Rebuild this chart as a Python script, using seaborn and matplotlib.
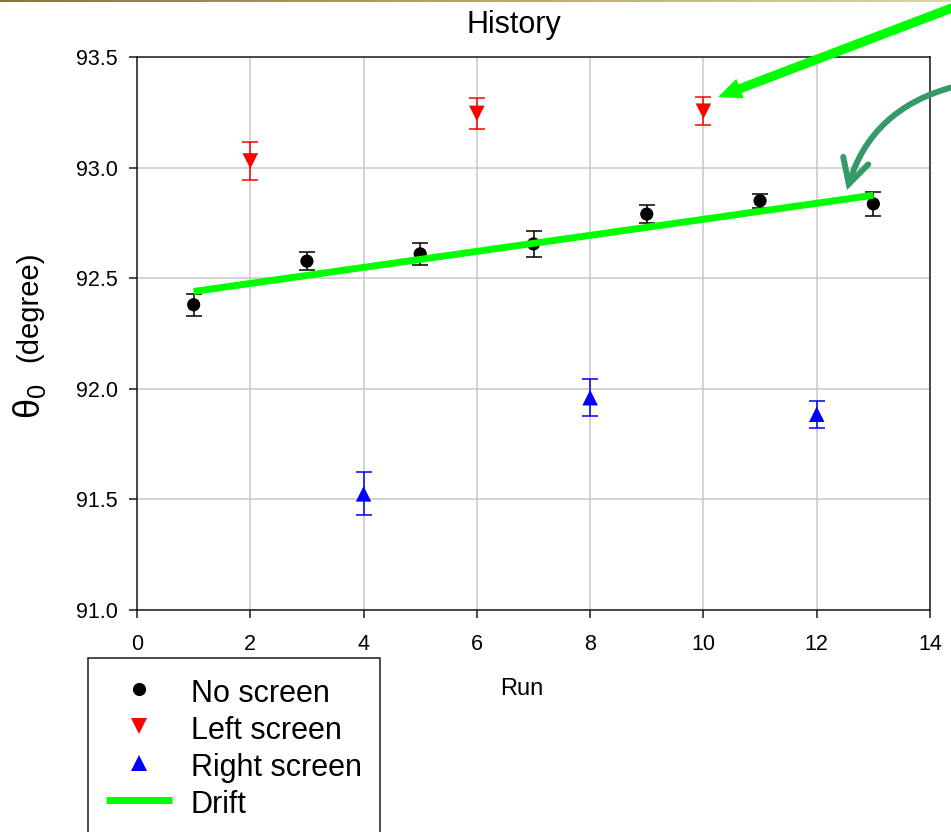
import numpy as np
import pandas as pd
import matplotlib
matplotlib.use("Agg")
import matplotlib.pyplot as plt
from matplotlib.lines import Line2D
from matplotlib.patches import FancyArrowPatch
from matplotlib.colors import LinearSegmentedColormap
import seaborn as sns

# ---- data -------------------------------------------------------------
no_run = [1, 3, 5, 7, 9, 11, 13]
no_theta = [92.38, 92.577, 92.61, 92.655, 92.79, 92.85, 92.836]
no_err = [0.05, 0.04, 0.05, 0.058, 0.04, 0.032, 0.055]

left_run = [2, 6, 10]
left_theta = [93.03, 93.245, 93.255]
left_err = [0.086, 0.07, 0.064]

right_run = [4, 8, 12]
right_theta = [91.525, 91.96, 91.885]
right_err = [0.097, 0.085, 0.06]

drift_run = [1, 13]
drift_theta = [92.44, 92.875]

series_names = ["No screen", "Left screen", "Right screen"]
series_colors = ["#000000", "#ff0000", "#0000ff"]
series_markers = ["o", "v", "^"]
series_sizes = [90, 125, 125]
drift_name = "Drift"
drift_color = "#00ff00"

x_ticks = [0, 2, 4, 6, 8, 10, 12, 14]
y_ticks = [91.0, 91.5, 92.0, 92.5, 93.0, 93.5]
y_tick_labels = ["91.0", "91.5", "92.0", "92.5", "93.0", "93.5"]

# ---- style ------------------------------------------------------------
sns.set_theme(style="whitegrid")
plt.rcParams["font.family"] = ["Liberation Sans", "DejaVu Sans"]
plt.rcParams["mathtext.fontset"] = "custom"
plt.rcParams["mathtext.rm"] = "Liberation Sans"
plt.rcParams["text.color"] = "black"

W, H = 951, 832
fig = plt.figure(figsize=(W / 100, H / 100), dpi=100, facecolor="white")


def fx(px):
    return px / W


def fy(py):
    return 1 - py / H


# thin shaded rule along the top edge
edge = fig.add_axes([0, fy(2), 1, 2 / H])
edge.imshow(np.linspace(0, 1, 256)[None, :], aspect="auto",
            cmap=LinearSegmentedColormap.from_list("edge", ["#8a7830", "#dcd5aa"]))
edge.set_axis_off()

ax = fig.add_axes([fx(137), fy(610), fx(930) - fx(137), fy(57) - fy(610)])
ax.set_facecolor("white")

frames = []
for name, r, t, e in [(series_names[0], no_run, no_theta, no_err),
                      (series_names[1], left_run, left_theta, left_err),
                      (series_names[2], right_run, right_theta, right_err)]:
    frames.append(pd.DataFrame({"run": r, "theta": t, "err": e, "config": name}))
df = pd.concat(frames, ignore_index=True)

# error bars below the markers
for name, color in zip(series_names, series_colors):
    sub = df[df["config"] == name]
    ax.errorbar(sub["run"], sub["theta"], yerr=sub["err"], fmt="none",
                ecolor=color, elinewidth=1.1, capsize=6, capthick=1.1, zorder=2)

sns.scatterplot(data=df, x="run", y="theta", hue="config", style="config",
                size="config", hue_order=series_names, style_order=series_names,
                palette=dict(zip(series_names, series_colors)),
                markers=dict(zip(series_names, series_markers)),
                sizes=dict(zip(series_names, series_sizes)),
                linewidth=0, legend=False, ax=ax, zorder=3)

sns.lineplot(x=drift_run, y=drift_theta, color=drift_color, linewidth=5,
             solid_capstyle="butt", ax=ax, zorder=4)

# ---- axes -------------------------------------------------------------
ax.set_xlim(0, 14)
ax.set_ylim(91.0, 93.5)
ax.set_xticks(x_ticks)
ax.set_xticklabels([str(v) for v in x_ticks])
ax.set_yticks(y_ticks)
ax.set_yticklabels(y_tick_labels)
ax.grid(True, color="#c8c8c8", linewidth=1.1)
ax.set_axisbelow(True)
for s in ax.spines.values():
    s.set_visible(True)
    s.set_color("#1a1a1a")
    s.set_linewidth(1.1)
ax.tick_params(axis="both", which="major", direction="out", length=6, width=1.1,
               color="#1a1a1a", labelsize=15.5, labelcolor="black",
               bottom=True, left=True)
ax.tick_params(axis="y", pad=8)
ax.tick_params(axis="x", pad=11)

ax.set_title("History", fontsize=22, color="black", x=(514 - 137) / 793,
             y=(610 - 33) / 553, pad=0, va="baseline")

ax.set_xlabel("Run", fontsize=17, color="black")
ax.xaxis.label.set_va("center")
ax.xaxis.set_label_coords((522 - 137) / 793, (610 - 689) / 553)

ax.set_ylabel("(degree)", fontsize=21, color="black")
ax.yaxis.label.set_va("center")
ax.yaxis.set_label_coords((29 - 137) / 793, (610 - 307) / 553)
ax.text((30 - 137) / 793, (610 - 401) / 553, r"$\mathregular{\theta_0}$",
        rotation=90, ha="center", va="center", fontsize=26, color="black",
        transform=ax.transAxes)

# ---- legend -----------------------------------------------------------
handles = [Line2D([], [], linestyle="none", marker=m, color=c,
                  markersize=np.sqrt(s), markeredgewidth=0)
           for m, c, s in zip(series_markers, series_colors, series_sizes)]
handles.append(Line2D([], [], color=drift_color, linewidth=5, solid_capstyle="butt"))
leg = fig.legend(handles, series_names + [drift_name], loc="upper left",
                 bbox_to_anchor=(fx(88), fy(658)), bbox_transform=fig.transFigure,
                 borderaxespad=0, fontsize=22, frameon=True, fancybox=False,
                 edgecolor="#1a1a1a", facecolor="white", framealpha=1,
                 borderpad=0.6, labelspacing=0.13, handleheight=1.2,
                 handlelength=2.15, handletextpad=0.62, labelcolor="black")
leg.get_frame().set_linewidth(1.1)

# ---- pointer arrows ---------------------------------------------------
fig.add_artist(FancyArrowPatch(
    (fx(965), fy(3)), (fx(718), fy(97)), transform=fig.transFigure,
    arrowstyle="simple,head_length=17,head_width=15,tail_width=6.7",
    mutation_scale=1, color=drift_color, linewidth=0, shrinkA=0, shrinkB=0,
    zorder=10))
fig.add_artist(FancyArrowPatch(
    (fx(953), fy(87)), (fx(847), fy(190)), transform=fig.transFigure,
    connectionstyle="arc3,rad=0.28",
    arrowstyle="->,head_length=17.5,head_width=9.4",
    mutation_scale=1, color="#369a68", linewidth=4.3, shrinkA=0, shrinkB=0,
    capstyle="round", joinstyle="miter", zorder=10))

fig.savefig("out.png", dpi=100, facecolor="white")
